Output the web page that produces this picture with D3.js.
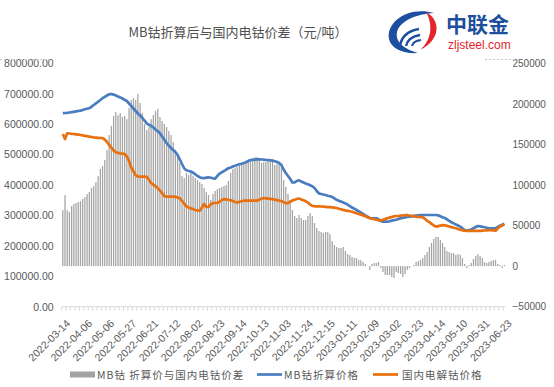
<!DOCTYPE html>
<html>
<head>
<meta charset="utf-8">
<script src="https://cdn.jsdelivr.net/npm/d3@7"></script>
<style>
  body { margin: 0; background: #fff; }
  svg { display: block; }
</style>
</head>
<body>
<div id="chart"></div>
<script>
// 横轴标签（每 10 个数据点一个）
const dateLabels = ["2022-03-14", "2022-04-06", "2022-05-06", "2022-05-27", "2022-06-21", "2022-07-12",
    "2022-08-02", "2022-08-23", "2022-09-14", "2022-10-13", "2022-11-03", "2022-11-24", "2022-12-15",
    "2023-01-11", "2023-02-09", "2023-03-02", "2023-03-23", "2023-04-14", "2023-05-10", "2023-05-31", "2023-06-23"];

// MB钴折算价与国内电钴价差 (右轴, 元/吨)
const spread = [69100, 87600, 69100, 66700, 74100, 76500, 77800, 79000, 80200, 82700,
    85200, 88900, 91300, 96300, 98700, 103600, 111000, 119700, 123400, 130800,
    143100, 161600, 172700, 185000, 189900, 186200, 188700, 183800, 185000, 181300,
    194800, 204700, 207200, 204700, 212100, 201000, 188700, 175100, 167700, 171400,
    181300, 186200, 191100, 193600, 183800, 178800, 175100, 171400, 166500, 161600,
    152900, 143100, 135700, 127100, 111000, 108600, 114700, 112300, 116000, 111000,
    108600, 106100, 103600, 101200, 96300, 91300, 87600, 81500, 88900, 92600,
    95000, 96300, 97500, 98700, 99900, 104900, 114700, 119700, 120900, 122100,
    123400, 124600, 125800, 127100, 130800, 132000, 133200, 134500, 134500, 133200,
    127100, 128300, 128300, 129500, 128300, 128300, 124600, 125800, 127100, 122100,
    106100, 97500, 88900, 81500, 69100, 61700, 59300, 63000, 59300, 56800,
    56800, 61700, 65400, 61700, 53100, 47000, 43300, 42000, 40800, 42000,
    42000, 39600, 30900, 26000, 23500, 22300, 22300, 23500, 18600, 14900,
    13700, 11200, 10000, 10000, 7500, 7500, 5100, 2600, 100, -4800,
    2600, 3800, 3800, 5100, -2300, -7300, -11000, -11000, -11000, -13400,
    -14700, -7300, -8500, -9700, -13400, -9700, -4800, -2300, 100, 1400,
    5100, 6300, 7500, 10000, 13700, 17400, 23500, 28500, 33400, 35900,
    35900, 32200, 28500, 23500, 18600, 17400, 16100, 16100, 13700, 14900,
    13700, 10000, 2600, -2300, 1400, 3800, 8800, 12400, 14900, 12400,
    10000, 5100, 3800, 5100, 6300, 7500, 7500, 2600, 1400, -2300, 1400];

// MB钴折算价格 (左轴)
const mbPrice = [636000, 636700, 637300, 638300, 639300, 640600, 641900, 643200, 644500, 646500,
    648800, 650800, 652400, 657000, 663000, 668200, 673800, 679400, 685300, 689900,
    694200, 698100, 699100, 697100, 694200, 690900, 687900, 684300, 680000, 676100,
    667900, 659700, 651400, 643200, 635000, 628400, 620900, 612000, 602500, 597900,
    593900, 589300, 582700, 576500, 570300, 559400, 548600, 538000, 529200, 521600,
    515000, 508500, 498600, 483800, 469000, 454200, 448300, 446000, 444400, 440400,
    435200, 429600, 425600, 423000, 422400, 424300, 425300, 423700, 422000, 421000,
    429600, 437500, 441700, 446000, 450900, 454900, 457500, 460500, 463400, 465700,
    468000, 470000, 472300, 474900, 478900, 482200, 482800, 483500, 484100, 484500,
    483800, 483200, 482200, 481500, 480900, 480200, 478200, 475600, 472300, 465700,
    450900, 439400, 429600, 419700, 408200, 408200, 413200, 415400, 411500, 408200,
    404900, 402300, 399300, 396100, 390100, 380300, 372400, 370400, 368800, 367100,
    364800, 363200, 360900, 356300, 351400, 348100, 345400, 342500, 339500, 335300,
    330300, 326000, 322100, 317800, 313600, 309300, 304700, 300400, 296100, 291500,
    290500, 290500, 290500, 287300, 282000, 279400, 279400, 279400, 281000, 283000,
    284300, 285900, 288600, 290500, 292200, 293500, 294800, 296100, 297100, 298400,
    299400, 300400, 301400, 301400, 301400, 301400, 301400, 301400, 301400, 301400,
    300100, 297500, 294200, 291500, 287300, 282300, 277400, 273800, 270500, 266900,
    263300, 257700, 252100, 250500, 252100, 253700, 258000, 262000, 265200, 263900,
    262600, 261000, 259300, 257700, 257700, 257700, 258000, 262000, 265900, 269500, 272500];

// 国内电解钴价格 (左轴)
const domesticPrice = [567600, 551200, 569900, 569300, 568300, 567600, 566600, 565700, 564300, 563000,
    561700, 560700, 559100, 557800, 556500, 555800, 555100, 554500, 553800, 549600,
    541300, 532100, 522600, 513700, 507800, 505500, 504200, 503200, 501900, 493700,
    478900, 457500, 444400, 432200, 427300, 427300, 427300, 427300, 427000, 417100,
    406600, 401000, 395700, 390100, 381600, 372700, 363500, 361500, 361500, 361500,
    361500, 360900, 358900, 356300, 347700, 338900, 329300, 326000, 323400, 320500,
    317800, 316800, 315500, 326000, 337600, 327700, 327700, 336600, 340200, 340800,
    341500, 344800, 350700, 353700, 352700, 351400, 350000, 347100, 344100, 342200,
    344800, 346800, 348400, 348400, 348400, 348400, 348400, 348400, 348400, 352000,
    355000, 357300, 356300, 355300, 354300, 353300, 352000, 350400, 349100, 346800,
    343800, 340200, 340200, 345100, 349100, 351700, 354300, 355600, 352700, 349700,
    346800, 342200, 335900, 331000, 330300, 330000, 329700, 329300, 328700, 328000,
    327400, 327000, 326400, 325700, 324400, 322100, 320100, 318200, 316500, 315200,
    313600, 312200, 309900, 307300, 305000, 302700, 300100, 297100, 294200, 291200,
    289200, 287600, 285600, 284000, 283000, 285900, 288600, 290900, 292900, 294800,
    296800, 298100, 298100, 299100, 299800, 300700, 301400, 299800, 298400, 296800,
    295800, 295200, 294500, 294200, 288900, 282300, 277700, 272500, 266900, 263300,
    264900, 266600, 267900, 267500, 265600, 263600, 261600, 259700, 257700, 255400,
    253100, 251100, 249800, 249100, 249100, 249100, 249100, 249100, 249100, 249500,
    250100, 250500, 251100, 251800, 251800, 250800, 249800, 257000, 263600, 266900, 270200];

const leftTicks = [0, 100000, 200000, 300000, 400000, 500000, 600000, 700000, 800000];
const rightTicks = [-50000, 0, 50000, 100000, 150000, 200000, 250000];

const W = 554, H = 387;
const plot = { left: 61.7, right: 505.5, top: 63.3, bottom: 306.7 };
const textColor = "#595959";
const numFont = "'Liberation Sans', Arial, sans-serif";
const cjkFont = "'Noto Sans CJK SC', sans-serif";

const svg = d3.select("#chart").append("svg")
    .attr("width", W)
    .attr("height", H);

const idx = d3.range(mbPrice.length);

const x = d3.scaleBand()
    .domain(idx)
    .range([plot.left, plot.right]);

const yLeft = d3.scaleLinear()
    .domain([0, 800000])
    .range([plot.bottom, plot.top]);

const yRight = d3.scaleLinear()
    .domain([-50000, 250000])
    .range([plot.bottom, plot.top]);

// 价差柱子
const barW = 1.25;
svg.append("g")
    .selectAll("rect")
    .data(spread)
    .join("rect")
    .attr("x", (d, i) => x(i) + x.bandwidth() / 2 - barW / 2)
    .attr("y", d => yRight(Math.max(d, 0)))
    .attr("width", barW)
    .attr("height", d => Math.abs(yRight(d) - yRight(0)))
    .attr("fill", "#a3a3a3");

// 底部分类轴
const axisG = svg.append("g")
    .attr("transform", `translate(0, ${plot.bottom})`);
axisG.append("line")
    .attr("x1", plot.left).attr("x2", plot.right)
    .attr("stroke", "#d9d9d9").attr("stroke-width", 1);
axisG.selectAll(".tk")
    .data(idx.filter(i => i % 2 === 0))
    .join("line")
    .attr("class", "tk")
    .attr("x1", i => x(i)).attr("x2", i => x(i))
    .attr("y1", 0).attr("y2", 4)
    .attr("stroke", "#d9d9d9").attr("stroke-width", 1);

// 折线
const line = yScale => d3.line()
    .x((d, i) => x(i) + x.bandwidth() / 2)
    .y(d => yScale(d));

svg.append("path")
    .datum(mbPrice)
    .attr("d", line(yLeft))
    .attr("fill", "none")
    .attr("stroke", "#4a7dc0")
    .attr("stroke-width", 2.7)
    .attr("stroke-linejoin", "round");

svg.append("path")
    .datum(domesticPrice)
    .attr("d", line(yLeft))
    .attr("fill", "none")
    .attr("stroke", "#e8700f")
    .attr("stroke-width", 2.7)
    .attr("stroke-linejoin", "round");

// 左轴
const leftAxis = d3.axisLeft(yLeft)
    .tickValues(leftTicks)
    .tickSize(0)
    .tickPadding(8)
    .tickFormat(d3.format(".2f"));
svg.append("g")
    .attr("transform", `translate(${plot.left}, 0)`)
    .call(leftAxis)
    .call(g => g.select(".domain").remove())
    .selectAll("text")
    .attr("fill", textColor)
    .style("font-family", numFont)
    .style("font-size", "10.5px");

// 右轴
const rightAxis = d3.axisRight(yRight)
    .tickValues(rightTicks)
    .tickSize(0)
    .tickPadding(7)
    .tickFormat(d3.format("d"));
svg.append("g")
    .attr("transform", `translate(${plot.right}, 0)`)
    .call(rightAxis)
    .call(g => g.select(".domain").remove())
    .selectAll("text")
    .attr("fill", textColor)
    .style("font-family", numFont)
    .style("font-size", "10px");

// 日期标签 (倾斜 45 度)
svg.append("g")
    .selectAll("text")
    .data(dateLabels)
    .join("text")
    .attr("transform", (d, k) => {
        const tx = x(k * 10) + x.bandwidth() / 2 + 8;
        const ty = 324;
        return `translate(${tx}, ${ty}) rotate(-45)`;
    })
    .attr("text-anchor", "end")
    .attr("fill", textColor)
    .style("font-family", numFont)
    .style("font-size", "10.5px")
    .text(d => d);

// 标题
svg.append("text")
    .attr("x", 238)
    .attr("y", 36.5)
    .attr("text-anchor", "middle")
    .attr("fill", "#505050")
    .style("font-family", cjkFont)
    .style("font-size", "13px")
    .text("MB钴折算后与国内电钴价差（元/吨）");

// 图例
const legend = svg.append("g")
    .style("font-family", cjkFont)
    .style("font-size", "10.5px")
    .style("letter-spacing", "1px")
    .attr("fill", textColor);

legend.append("rect")
    .attr("x", 70).attr("y", 371.5)
    .attr("width", 25).attr("height", 6)
    .attr("fill", "#a3a3a3");
legend.append("text")
    .attr("x", 97).attr("y", 378.5)
    .text("MB钴 折算价与国内电钴价差");

legend.append("line")
    .attr("x1", 257).attr("x2", 282)
    .attr("y1", 374.5).attr("y2", 374.5)
    .attr("stroke", "#4a7dc0").attr("stroke-width", 2.7);
legend.append("text")
    .attr("x", 284).attr("y", 378.5)
    .text("MB钴折算价格");

legend.append("line")
    .attr("x1", 373).attr("x2", 398)
    .attr("y1", 374.5).attr("y2", 374.5)
    .attr("stroke", "#e8700f").attr("stroke-width", 2.7);
legend.append("text")
    .attr("x", 402).attr("y", 378.5)
    .text("国内电解钴价格");

// 中联金 logo
const logo = svg.append("g");
logo.append("path")
    .attr("d", "M434,13 C408,6 386,22 389,39 C391,49 404,54 418,53 C404,49 395,42 397,32 C400,21 416,14 434,13 Z")
    .attr("fill", "#1c4f9f");
logo.append("path")
    .attr("d", "M426,12 C441,20 441,40 420,50 C432,40 433,24 426,12 Z")
    .attr("fill", "#e2262b");
logo.append("path")
    .attr("d", "M400,46 Q402,32 419,29")
    .attr("fill", "none").attr("stroke", "#1c4f9f").attr("stroke-width", 2.6);
logo.append("path")
    .attr("d", "M406,46 Q408,37 420,35")
    .attr("fill", "none").attr("stroke", "#1c4f9f").attr("stroke-width", 2.4);
logo.append("path")
    .attr("d", "M412,46 Q413,41 421,40")
    .attr("fill", "none").attr("stroke", "#1c4f9f").attr("stroke-width", 2.2);
logo.append("text")
    .attr("x", 446).attr("y", 32)
    .attr("fill", "#1d4f9c")
    .style("font-family", cjkFont)
    .style("font-size", "21px")
    .style("font-weight", "bold")
    .text("中联金");
logo.append("text")
    .attr("x", 448).attr("y", 49)
    .attr("fill", "#e2262b")
    .style("font-family", numFont)
    .style("font-size", "12px")
    .text("zljsteel.com");

// 虚线边框残留
svg.append("g")
    .selectAll("line")
    .data([[0, 50, 59.5], [485, 515, 59.5]])
    .join("line")
    .attr("x1", d => d[0]).attr("x2", d => d[1])
    .attr("y1", d => d[2]).attr("y2", d => d[2])
    .attr("stroke", "#c8c8c8")
    .attr("stroke-dasharray", "2,2");
</script>
</body>
</html>
